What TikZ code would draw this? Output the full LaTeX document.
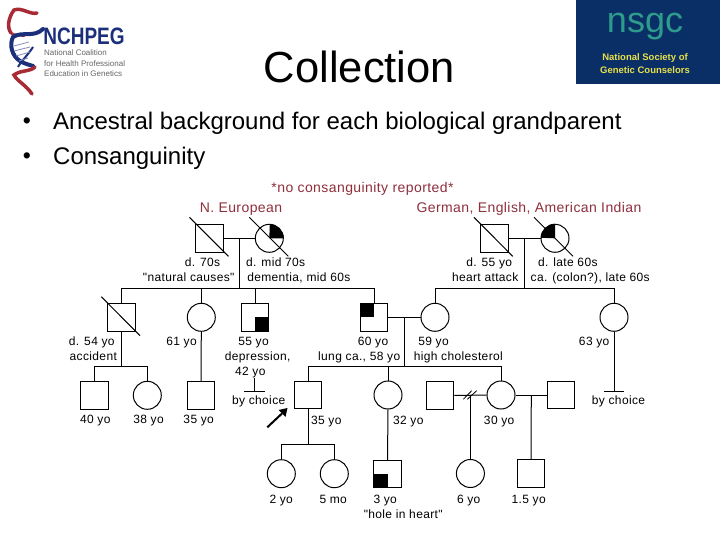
\documentclass[tikz,border=0pt]{standalone}
\usepackage{fontspec}
\setmainfont{Liberation Sans}
\newfontfamily\pedfont[LetterSpace=3]{Liberation Sans}
\definecolor{redtext}{HTML}{8E2F3C}
\definecolor{logonavy}{HTML}{1B2F7A}
\definecolor{logored}{HTML}{A82A35}
\definecolor{nsgcblue}{HTML}{0A2F66}
\definecolor{nsgcteal}{HTML}{2E9C8C}
\definecolor{nsgcyel}{HTML}{E8E04A}
\newcommand{\lab}[4]{\node[ped] (#1) at (#2,#3) {#4};}
\tikzset{
  sq/.style={draw=black,line width=1pt,rectangle,minimum size=27.5pt,inner sep=0pt},
  ci/.style={draw=black,line width=1pt,circle,minimum size=28pt,inner sep=0pt},
  lnk/.style={line width=1pt,black},
  ped/.style={font=\fontsize{12}{13}\pedfont,inner sep=0pt,text=black,text height=9pt,text depth=3pt,yshift=-1pt},
  anc/.style={font=\fontsize{14}{15}\pedfont,inner sep=0pt,text=redtext,text height=10pt,text depth=3pt,yshift=-2pt},
  bul/.style={font=\fontsize{24}{26}\selectfont,inner sep=0pt,anchor=west,text height=17pt,text depth=5pt,yshift=-2pt},
}
\begin{document}
\begin{tikzpicture}[x=1pt,y=-1pt]
\useasboundingbox (0,0) rectangle (720,540);
\fill[white] (0,0) rectangle (720,540);
% NCHPEG logo
\draw[logored,line width=3.5pt,line cap=round] (37,13) .. controls (30,15) and (22,7) .. (14,10) .. controls (8,18) and (7,28) .. (11,33);
\draw[logored,line width=2.5pt,line cap=round] (11,33) .. controls (14,36) and (18,34) .. (24,36);
\draw[logonavy,line width=4pt,line cap=round] (43,29) .. controls (34,38) and (22,31) .. (13,37) .. controls (9,45) and (12,56) .. (20,61) .. controls (25,64) and (30,65) .. (33,66);
\draw[logored,line width=3.5pt,line cap=round] (35,67) .. controls (30,72) and (20,70) .. (14,75) .. controls (17,81) and (26,85) .. (32,94);
\draw[logonavy,line width=2pt] (33,47) .. controls (28,55) and (22,60) .. (18,67);
\draw[logonavy!55,line width=.8pt] (14,46)--(29,42) (14,51)--(30,47) (16,56)--(30,52) (19,61)--(28,58);
\node[inner sep=0pt,text=logonavy,font=\fontsize{19}{21}\bfseries,xscale=1,yscale=1.25,transform shape] (nchpeg) at (84,36.5) {NCHPEG};
\node[inner sep=0pt,text=black!60,font=\fontsize{8}{10.5}\selectfont,align=left,anchor=west] (nchtext) at (44,63.5) {National Coalition\\for Health Professional\\Education in Genetics};
% NSGC logo
\fill[nsgcblue] (576,0) rectangle (720,84);
\node[inner sep=0pt,text=nsgcteal,font=\fontsize{36}{36}\selectfont] (nsgc) at (645,27) {nsgc};
\node[inner sep=0pt,text=nsgcyel,font=\fontsize{9.5}{13}\bfseries,align=center] (nsgct) at (645,63.5) {National Society of\\Genetic Counselors};
% Title and bullets
\node[inner sep=0pt,font=\fontsize{43.5}{46}\selectfont] (title) at (359.5,67) {Collection};
\node[inner sep=0pt,font=\fontsize{23}{26}\selectfont] (b1) at (27,123) {•};
\node[inner sep=0pt,font=\fontsize{23}{26}\selectfont] (b2) at (27,158) {•};
\node[bul] (t1) at (53,122) {Ancestral background for each biological grandparent};
\node[bul] (t2) at (53,157) {Consanguinity};
% Red text
\node[anc] (nocons) at (362.5,187.5) {*no consanguinity reported*};
\node[anc] (anc1) at (241,206.5) {N. European};
\node[anc] (anc2) at (529,206.5) {German, English, American Indian};
% Generation I
\node[sq] (g1) at (209.5,238.3) {};
\node[ci] (g2) at (269.3,238.3) {};
\node[sq] (g3) at (494.7,238.3) {};
\node[ci] (g4) at (555,238.3) {};
\fill (g2.center) -- (g2.east) arc[start angle=0,end angle=90,radius=14pt] -- cycle;
\fill (g4.center) -- (g4.north) arc[start angle=90,end angle=180,radius=14pt] -- cycle;
\draw[lnk] ([shift={(-20,-21)}]g1.center) -- ([shift={(19,18)}]g1.center);
\draw[lnk] ([shift={(-20,-21)}]g2.center) -- ([shift={(19,18)}]g2.center);
\draw[lnk] ([shift={(-20.7,-21)}]g3.center) -- ([shift={(18,18)}]g3.center);
\draw[lnk] ([shift={(-21,-21)}]g4.center) -- ([shift={(18,18)}]g4.center);
% Generation II
\node[sq] (a1) at (121.5,317.3) {};
\node[ci] (a2) at (201.3,317.3) {};
\node[sq] (a3) at (255,317.3) {};
\node[sq] (a4) at (374,317.3) {};
\node[ci] (b5) at (435,317.3) {};
\node[ci] (b6) at (614,317.3) {};
\draw[lnk] ([shift={(-20.2,-20.6)}]a1.center) -- ([shift={(18.5,18.4)}]a1.center);
\fill (a3.center) rectangle (a3.south east);
\fill (a4.center) rectangle (a4.north west);
% Generation III
\node[sq] (c1) at (94.3,395.3) {};
\node[ci] (c2) at (147.3,395.3) {};
\node[sq] (c3) at (201,395.3) {};
\node[sq] (p) at (308,395) {};
\node[ci] (c5) at (388,395) {};
\node[sq] (c6) at (440,395.5) {};
\node[ci] (c7) at (501,395) {};
\node[sq] (c8) at (561,395) {};
% Generation IV
\node[ci] (d1) at (281.3,473.7) {};
\node[ci] (d2) at (334.3,473.7) {};
\node[sq] (d3) at (387.5,474) {};
\node[ci] (d4) at (470.4,473.5) {};
\node[sq] (d5) at (531,473.7) {};
\fill (d3.center) rectangle (d3.south west);
% Helper coordinates
\coordinate (m1) at (239.3,238.3);
\coordinate (s1) at (239.3,288.3);
\coordinate (m2) at (524.3,238.3);
\coordinate (s2) at (524.3,288.3);
\coordinate (m3) at (404,317.3);
\coordinate (s3) at (404,366);
\coordinate (s4) at (121.5,366.3);
\coordinate (s5) at (308,444.3);
\coordinate (m6) at (470.4,395);
\coordinate (m7) at (531.3,395);
\coordinate (nc1top) at (254.7,378.3);
\coordinate (nc1) at (254.7,391);
\coordinate (nc1l) at (244,391);
\coordinate (nc1r) at (264.7,391);
\coordinate (nc2) at (614,391);
\coordinate (nc2l) at (604,391);
\coordinate (nc2r) at (624,391);
\coordinate (dv1) at (463.3,399.3);
\coordinate (dv2) at (471.7,390.7);
\coordinate (dv3) at (467.3,399.3);
\coordinate (dv4) at (476.7,390.7);
\coordinate (ar1) at (267.3,427.3);
\coordinate (ar2) at (287.5,408);
% Connectors
\draw[lnk] (g1.east) -- (g2.west);
\draw[lnk] (g3.east) -- (g4.west);
\draw[lnk] (m1) -- (s1);
\draw[lnk] (m2) -- (s2);
\draw[lnk] (a1.north) |- (s1);
\draw[lnk] (s1) -| (a2.north);
\draw[lnk] (s1) -| (a3.north);
\draw[lnk] (s1) -| (a4.north);
\draw[lnk] (b5.north) |- (s2);
\draw[lnk] (s2) -| (b6.north);
\draw[lnk] (a4.east) -- (b5.west);
\draw[lnk] (m3) -- (s3);
\draw[lnk] (p.north) |- (s3);
\draw[lnk] (s3) -| (c5.north);
\draw[lnk] (s3) -| (c7.north);
\draw[lnk] (a1.south) -- (s4);
\draw[lnk] (c1.north) |- (s4);
\draw[lnk] (s4) -| (c2.north);
\draw[lnk] (a2.south) -- (c3.north);
\draw[lnk] (nc1top) -- (nc1);
\draw[lnk] (nc1l) -- (nc1r);
\draw[lnk] (b6.south) -- (nc2);
\draw[lnk] (nc2l) -- (nc2r);
\draw[lnk] (p.south) -- (s5);
\draw[lnk] (d1.north) |- (s5);
\draw[lnk] (s5) -| (d2.north);
\draw[lnk] (c5.south) -- (d3.north);
\draw[lnk] (c6.east) -- (c7.west);
\draw[lnk] (c7.east) -- (c8.west);
\draw[lnk] (m6) -- (d4.north);
\draw[lnk] (m7) -- (d5.north);
\draw[line width=.8pt] (dv1) -- (dv2);
\draw[line width=.8pt] (dv3) -- (dv4);
\fill (ar2) -- (278.5,410) -- (285.5,417) -- cycle;
\draw[line width=2pt] (ar1) -- (282,413.5);
% Labels
\lab{l1}{202.5}{262.5}{d. 70s}
\lab{l2}{188.7}{277}{"natural causes"}
\lab{l3}{275.7}{262.5}{d. mid 70s}
\lab{l4}{298.8}{277}{dementia, mid 60s}
\lab{l5}{489.2}{262.5}{d. 55 yo}
\lab{l6}{485.2}{277}{heart attack}
\lab{l7}{567.8}{262.5}{d. late 60s}
\lab{l8}{590.2}{277}{ca. (colon?), late 60s}
\lab{l9}{91.8}{341}{d. 54 yo}
\lab{l10}{93.3}{356}{accident}
\lab{l11}{181.5}{341}{61 yo}
\lab{l12}{253.5}{341}{55 yo}
\lab{l13}{257.7}{356}{depression,}
\lab{l14}{250.3}{371}{42 yo}
\lab{l15}{258.7}{400}{by choice}
\lab{l16}{95.3}{419.5}{40 yo}
\lab{l17}{148.5}{419.5}{38 yo}
\lab{l18}{198.7}{419.5}{35 yo}
\lab{l19}{373}{341}{60 yo}
\lab{l20}{359.2}{356}{lung ca., 58 yo}
\lab{l21}{433.5}{341}{59 yo}
\lab{l22}{458.3}{356}{high cholesterol}
\lab{l23}{594.2}{341}{63 yo}
\lab{l24}{618.5}{400}{by choice}
\lab{l25}{326.3}{420}{35 yo}
\lab{l26}{408.3}{420}{32 yo}
\lab{l27}{499.2}{420}{30 yo}
\lab{l28}{281.2}{499}{2 yo}
\lab{l29}{333.2}{499}{5 mo}
\lab{l30}{385.2}{499}{3 yo}
\lab{l31}{403.2}{514}{"hole in heart"}
\lab{l32}{468.7}{499}{6 yo}
\lab{l33}{528.7}{499}{1.5 yo}
\end{tikzpicture}
\end{document}
